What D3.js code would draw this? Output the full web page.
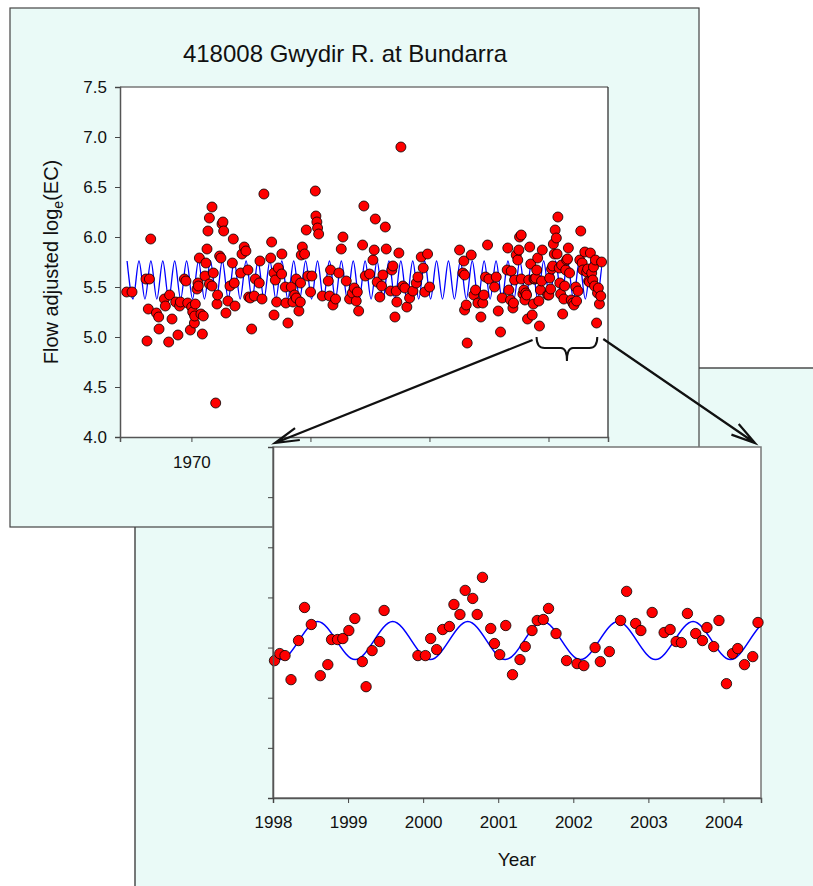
<!DOCTYPE html>
<html>
<head>
<meta charset="utf-8">
<script src="https://cdn.jsdelivr.net/npm/d3@7"></script>
<style>
  body { margin: 0; background: #fff; overflow: hidden; }
  svg text { font-family: Arial, "Liberation Sans", sans-serif; fill: #111; }
</style>
</head>
<body>
<div id="chart"></div>
<script>

// samples: decimal year and flow adjusted log_e(EC)
var obsYear = [
  1964.56, 1965.01, 1966.18, 1966.27, 1966.38, 1966.47, 1966.58, 1967.06, 1967.25, 1967.28,
  1967.73, 1967.81, 1968.09, 1968.17, 1968.37, 1968.68, 1968.87, 1969.01, 1969.07, 1969.41,
  1969.54, 1969.69, 1969.91, 1970.02, 1970.11, 1970.25, 1970.27, 1970.33, 1970.47, 1970.55,
  1970.58, 1970.67, 1970.80, 1970.92, 1971.00, 1971.14, 1971.22, 1971.31, 1971.39, 1971.51,
  1971.51, 1971.73, 1971.73, 1971.84, 1972.04, 1972.15, 1972.20, 1972.37, 1972.48, 1972.57,
  1972.65, 1972.71, 1972.90, 1973.07, 1973.24, 1973.44, 1973.52, 1973.60, 1973.66, 1974.14,
  1974.25, 1974.44, 1974.58, 1974.75, 1974.81, 1974.95, 1975.06, 1975.28, 1975.37, 1975.70,
  1975.76, 1975.93, 1976.09, 1976.66, 1976.74, 1976.94, 1976.94, 1977.05, 1977.16, 1977.30,
  1977.58, 1977.60, 1977.89, 1977.94, 1978.11, 1978.39, 1978.53, 1978.67, 1978.81, 1978.81,
  1979.03, 1979.15, 1979.17, 1979.23, 1979.32, 1979.51, 1979.65, 1979.79, 1980.01, 1980.12,
  1980.41, 1980.46, 1980.54, 1980.60, 1980.69, 1981.00, 1981.50, 1981.61, 1981.69, 1981.89,
  1982.11, 1982.39, 1982.59, 1982.73, 1983.01, 1983.29, 1983.52, 1983.68, 1983.85, 1983.94,
  1984.05, 1984.38, 1984.49, 1984.61, 1984.97, 1985.25, 1985.36, 1985.45, 1985.61, 1985.83,
  1985.98, 1986.09, 1986.29, 1986.37, 1986.73, 1986.84, 1986.93, 1987.10, 1987.21, 1987.26,
  1987.43, 1987.60, 1987.77, 1987.93, 1988.10, 1988.33, 1988.61, 1988.89, 1989.03, 1989.31,
  1989.48, 1989.61, 1989.84, 1990.01, 1992.53, 1992.81, 1992.89, 1992.95, 1992.95, 1993.09,
  1993.17, 1993.51, 1993.73, 1993.87, 1994.07, 1994.32, 1994.48, 1994.57, 1994.71, 1994.88,
  1994.99, 1995.47, 1995.61, 1995.78, 1995.97, 1996.11, 1996.53, 1996.58, 1996.67, 1996.81,
  1996.87, 1997.01, 1997.06, 1997.15, 1997.29, 1997.42, 1997.51, 1997.57, 1997.71, 1997.71,
  1997.85, 1997.93,
  1998.02, 1998.09, 1998.16, 1998.24, 1998.34, 1998.42, 1998.51, 1998.63, 1998.73, 1998.78,
  1998.86, 1998.93, 1999.01, 1999.09, 1999.19, 1999.24, 1999.32, 1999.42, 1999.48, 1999.93,
  2000.03, 2000.10, 2000.18, 2000.26, 2000.35, 2000.41, 2000.49, 2000.56, 2000.66, 2000.72,
  2000.79, 2000.90, 2000.95, 2001.02, 2001.10, 2001.19, 2001.29, 2001.36, 2001.45, 2001.52,
  2001.60, 2001.67, 2001.77, 2001.91, 2002.05, 2002.14, 2002.29, 2002.36, 2002.48, 2002.63,
  2002.71, 2002.83, 2002.90, 2003.05, 2003.21, 2003.29, 2003.37, 2003.44, 2003.52, 2003.63,
  2003.72, 2003.78, 2003.87, 2003.94, 2004.04, 2004.12, 2004.19, 2004.28, 2004.39, 2004.46
];
var obsValue = [
  5.45, 5.45, 5.58, 4.96, 5.28, 5.58, 5.98, 5.24, 5.20, 5.08,
  5.38, 5.31, 4.95, 5.42, 5.18, 5.35, 5.02, 5.31, 5.35, 5.58,
  5.56, 5.34, 5.07, 5.30, 5.25, 5.14, 5.21, 5.33, 5.48, 5.54,
  5.51, 5.79, 5.23, 5.03, 5.21, 5.61, 5.74, 5.88, 6.06, 6.19,
  5.53, 6.30, 5.51, 5.64, 4.34, 5.33, 5.42, 5.81, 5.79, 6.13,
  6.15, 6.06, 5.24, 5.36, 5.51, 5.74, 5.98, 5.54, 5.31, 5.64,
  5.83, 5.90, 5.86, 5.67, 5.40, 5.39, 5.08, 5.41, 5.58, 5.54,
  5.76, 5.38, 6.43, 5.79, 5.95, 5.64, 5.22, 5.57, 5.35, 5.69,
  5.63, 5.83, 5.50, 5.34, 5.14, 5.50, 5.35, 5.42, 5.39, 5.58,
  5.26, 5.35, 5.54, 5.82, 5.90, 5.83, 6.07, 5.61, 5.45, 5.61,
  6.46, 6.21, 6.15, 6.09, 6.03, 5.41, 5.56, 5.41, 5.67, 5.32,
  5.38, 5.64, 5.88, 6.00, 5.56, 5.38, 5.44, 5.49, 5.36, 5.45,
  5.26, 5.92, 6.31, 5.61, 5.63, 5.77, 5.87, 6.18, 5.55, 5.40,
  5.51, 5.62, 6.10, 5.88, 5.46, 5.67, 5.71, 5.20, 5.46, 5.35,
  5.84, 6.90, 5.51, 5.49, 5.30, 5.39, 5.46, 5.54, 5.60, 5.80,
  5.69, 5.45, 5.83, 5.50, 5.87, 5.64, 5.76, 5.62, 5.27, 5.32,
  4.94, 5.82, 5.42, 5.47, 5.34, 5.20, 5.34, 5.42, 5.60, 5.92,
  5.58, 5.50, 5.60, 5.26, 5.05, 5.39, 5.67, 5.89, 5.47, 5.37,
  5.66, 5.29, 5.34, 5.57, 5.82, 5.77, 5.87, 6.00, 6.02, 5.58,
  5.43, 5.47,
  5.37, 5.44, 5.42, 5.18, 5.57, 5.90, 5.73, 5.22, 5.33, 5.58,
  5.58, 5.59, 5.67, 5.79, 5.36, 5.11, 5.47, 5.56, 5.87, 5.42,
  5.42, 5.59, 5.48, 5.68, 5.71, 5.93, 5.83, 6.07, 5.99, 5.83,
  6.20, 5.69, 5.54, 5.43, 5.72, 5.23, 5.38, 5.51, 5.67, 5.77,
  5.78, 5.89, 5.64, 5.37, 5.34, 5.32, 5.50, 5.36, 5.46, 5.77,
  6.06, 5.74, 5.67, 5.85, 5.65, 5.68, 5.56, 5.55, 5.84, 5.64,
  5.57, 5.70, 5.51, 5.77, 5.14, 5.44, 5.49, 5.33, 5.41, 5.75
];

// seasonal fit: one peak and one trough per year
var fitYears = [1964, 1965, 1966, 1967, 1968, 1969, 1970, 1971, 1972, 1973,
                1974, 1975, 1976, 1977, 1978, 1979, 1980, 1981, 1982, 1983,
                1984, 1985, 1986, 1987, 1988, 1989, 1990, 1991, 1992, 1993,
                1994, 1995, 1996, 1997, 1998, 1999, 2000, 2001, 2002, 2003, 2004];
var fitPeakPhase = 0.595, fitTroughPhase = 1.095;
var fitPeakValue = 5.76, fitTroughValue = 5.38;

var yTicks = [4.0, 4.5, 5.0, 5.5, 6.0, 6.5, 7.0, 7.5];
var topXTicks = [1970, 1980, 1990, 2000];
var zoomXTicks = [1998, 1999, 2000, 2001, 2002, 2003, 2004];

var data = obsYear.map(function(d, i) { return {year: d, value: obsValue[i]}; });
var fit = [];
fitYears.forEach(function(yr) {
  fit.push({year: yr + fitPeakPhase, value: fitPeakValue});
  fit.push({year: yr + fitTroughPhase, value: fitTroughValue});
});

var panelFill = "#eafaf7";

var svg = d3.select("#chart").append("svg")
  .attr("width", 813)
  .attr("height", 886);
var defs = svg.append("defs");

// back panel (zoomed view)
svg.append("rect")
  .attr("x", 135).attr("y", 368)
  .attr("width", 720).attr("height", 560)
  .attr("fill", panelFill).attr("stroke", "#222").attr("stroke-width", 1.2);

// front panel (full record)
svg.append("rect")
  .attr("x", 10).attr("y", 8)
  .attr("width", 689).attr("height", 519)
  .attr("fill", panelFill).attr("stroke", "#444").attr("stroke-width", 1.2);

// ---------- top chart ----------
var mainBox = {left: 120, top: 87, width: 488, height: 350};
var xTop = d3.scaleLinear().domain([1964, 2005]).range([mainBox.left, mainBox.left + mainBox.width]);
var yTop = d3.scaleLinear().domain([4, 7.5]).range([mainBox.top + mainBox.height, mainBox.top]);

svg.append("text")
  .attr("x", 345).attr("y", 62)
  .attr("text-anchor", "middle")
  .style("font-size", "24px")
  .text("418008 Gwydir R. at Bundarra");

svg.append("rect")
  .attr("x", mainBox.left).attr("y", mainBox.top)
  .attr("width", mainBox.width).attr("height", mainBox.height)
  .attr("fill", "#fff");

defs.append("clipPath").attr("id", "clipTop")
  .append("rect")
  .attr("x", mainBox.left).attr("y", mainBox.top)
  .attr("width", xTop(2004.5) - mainBox.left).attr("height", mainBox.height);

var line = function(xs, ys) {
  return d3.line()
    .x(function(d) { return xs(d.year); })
    .y(function(d) { return ys(d.value); })
    .curve(d3.curveMonotoneX);
};

svg.append("path")
  .datum(fit)
  .attr("clip-path", "url(#clipTop)")
  .attr("fill", "none")
  .attr("stroke", "#0000ff")
  .attr("stroke-width", 1.3)
  .attr("d", line(xTop, yTop));

svg.append("g").selectAll("circle")
  .data(data)
  .enter().append("circle")
    .attr("cx", function(d) { return xTop(d.year); })
    .attr("cy", function(d) { return yTop(d.value); })
    .attr("r", 5)
    .attr("fill", "#ff0000")
    .attr("stroke", "#000")
    .attr("stroke-width", 0.8);

// frame: grey top, dark right
svg.append("path")
  .attr("d", "M" + mainBox.left + "," + mainBox.top + "H" + (mainBox.left + mainBox.width))
  .attr("fill", "none").attr("stroke", "#777").attr("stroke-width", 1.5);
svg.append("path")
  .attr("d", "M" + (mainBox.left + mainBox.width) + "," + mainBox.top + "V" + (mainBox.top + mainBox.height))
  .attr("fill", "none").attr("stroke", "#222").attr("stroke-width", 1.2);

var yAxisTop = svg.append("g")
  .attr("transform", "translate(" + mainBox.left + ",0)")
  .call(d3.axisLeft(yTop).tickValues(yTicks).tickSize(5).tickPadding(8).tickFormat(d3.format(".1f")));
var xAxisTop = svg.append("g")
  .attr("transform", "translate(0," + (mainBox.top + mainBox.height) + ")")
  .call(d3.axisBottom(xTop).tickValues(topXTicks).tickSize(5).tickPadding(14).tickFormat(d3.format("d")));

svg.append("text")
  .attr("transform", "translate(58,262) rotate(-90)")
  .attr("text-anchor", "middle")
  .style("font-size", "20px")
  .call(function(t) {
    t.append("tspan").text("Flow adjusted log");
    t.append("tspan").attr("dy", 5).style("font-size", "14px").text("e");
    t.append("tspan").attr("dy", -5).text("(EC)");
  });

// ---------- zoomed chart ----------
var zoomBox = {left: 273, top: 447, width: 488, height: 351};
var xLow = d3.scaleLinear().domain([1998, 2004.5]).range([zoomBox.left, zoomBox.left + zoomBox.width]);
var yLow = d3.scaleLinear().domain([4, 7.5]).range([zoomBox.top + zoomBox.height, zoomBox.top]);

svg.append("rect")
  .attr("x", zoomBox.left).attr("y", zoomBox.top)
  .attr("width", zoomBox.width).attr("height", zoomBox.height)
  .attr("fill", "#fff")
  .attr("stroke", "#777").attr("stroke-width", 1.5);

defs.append("clipPath").attr("id", "clipLow")
  .append("rect")
  .attr("x", zoomBox.left).attr("y", zoomBox.top)
  .attr("width", zoomBox.width).attr("height", zoomBox.height);

svg.append("path")
  .datum(fit)
  .attr("clip-path", "url(#clipLow)")
  .attr("fill", "none")
  .attr("stroke", "#0000ff")
  .attr("stroke-width", 1.5)
  .attr("d", line(xLow, yLow));

svg.append("g").selectAll("circle")
  .data(data.filter(function(d) { return d.year >= 1998; }))
  .enter().append("circle")
    .attr("cx", function(d) { return xLow(d.year); })
    .attr("cy", function(d) { return yLow(d.value); })
    .attr("r", 5.2)
    .attr("fill", "#ff0000")
    .attr("stroke", "#000")
    .attr("stroke-width", 0.8);

var yAxisLow = svg.append("g")
  .attr("transform", "translate(" + zoomBox.left + ",0)")
  .call(d3.axisLeft(yLow).tickValues(yTicks).tickSize(5).tickFormat(""));
var xAxisLow = svg.append("g")
  .attr("transform", "translate(0," + (zoomBox.top + zoomBox.height) + ")")
  .call(d3.axisBottom(xLow).tickValues(zoomXTicks).tickSize(5).tickPadding(13).tickFormat(d3.format("d")));

svg.append("text")
  .attr("x", zoomBox.left + zoomBox.width / 2).attr("y", 866)
  .attr("text-anchor", "middle")
  .style("font-size", "19px")
  .text("Year");

// axis styling
[yAxisTop, xAxisTop, yAxisLow, xAxisLow].forEach(function(a) {
  a.select(".domain").attr("stroke", "#555").attr("stroke-width", 1.5);
  a.selectAll(".tick line").attr("stroke", "#444");
  a.selectAll(".tick text").style("font-size", "17px").attr("fill", "#111");
});

// ---------- zoom annotation ----------
var bx0 = xTop(1999), bx1 = xTop(2004.1), by = yTop(5.0);
var bm = (bx0 + bx1) / 2;
svg.append("path")
  .attr("d", "M" + bx0 + "," + by +
             "Q" + bx0 + "," + (by + 11) + " " + (bx0 + 8) + "," + (by + 11) +
             "L" + (bm - 6) + "," + (by + 11) +
             "Q" + bm + "," + (by + 11) + " " + bm + "," + (by + 24) +
             "Q" + bm + "," + (by + 11) + " " + (bm + 6) + "," + (by + 11) +
             "L" + (bx1 - 8) + "," + (by + 11) +
             "Q" + bx1 + "," + (by + 11) + " " + bx1 + "," + by)
  .attr("fill", "none").attr("stroke", "#111").attr("stroke-width", 2);

function arrow(x0, y0, x1, y1) {
  var a = Math.atan2(y0 - y1, x0 - x1), len = 25, spread = 0.26;
  svg.append("path")
    .attr("d", "M" + x0 + "," + y0 + "L" + x1 + "," + y1 +
               "M" + (x1 + len * Math.cos(a - spread)) + "," + (y1 + len * Math.sin(a - spread)) +
               "L" + x1 + "," + y1 +
               "L" + (x1 + len * Math.cos(a + spread)) + "," + (y1 + len * Math.sin(a + spread)))
    .attr("fill", "none").attr("stroke", "#111").attr("stroke-width", 2.2);
}
arrow(bx0 - 4, by + 3, xLow(1998) + 2, yLow(7.5) - 4);
arrow(bx1 + 6, by + 2, xLow(2004.42), yLow(7.5) - 4);

</script>
</body>
</html>
